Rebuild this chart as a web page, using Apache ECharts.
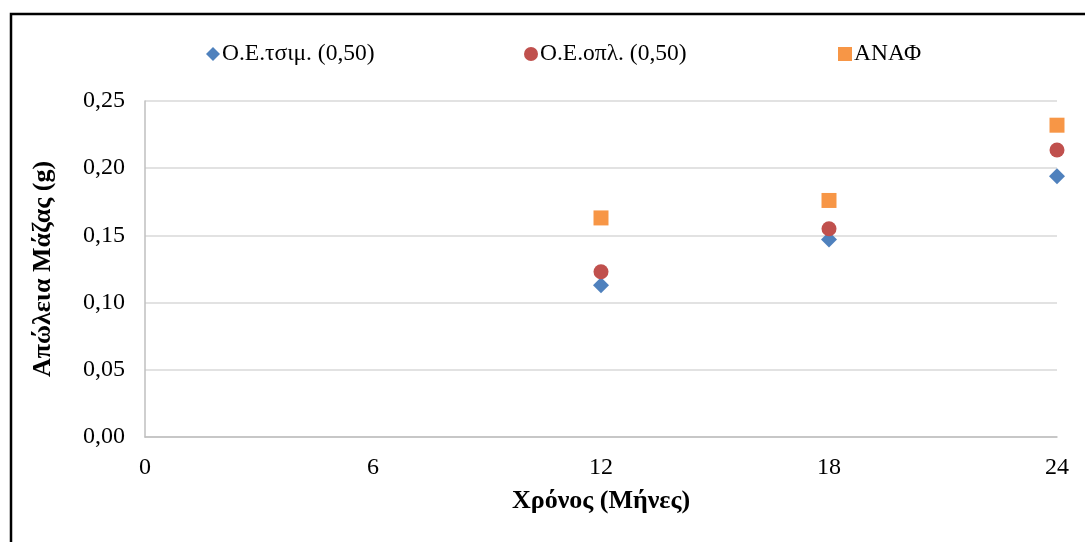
<!DOCTYPE html>
<html><head><meta charset="utf-8">
<script src="https://cdn.jsdelivr.net/npm/echarts@6/dist/echarts.min.js"></script>
<style>html,body{margin:0;padding:0;background:#fff}#c{width:1085px;height:542px}</style>
</head><body><div id="c"></div>
<script>
const months = [12, 18, 24];
const tsimValues = [0.113, 0.147, 0.194];
const oplValues = [0.123, 0.155, 0.2135];
const anafValues = [0.163, 0.176, 0.232];
const seriesNames = ['Ο.Ε.τσιμ. (0,50)', 'Ο.Ε.οπλ. (0,50)', 'ΑΝΑΦ'];
const xTitle = 'Χρόνος (Μήνες)';
const yTitle = 'Απώλεια Μάζας (g)';

const font = 'Liberation Serif';
const pair = (vals) => months.map((m, i) => [m, vals[i]]);
const chart = echarts.init(document.getElementById('c'), null, {renderer: 'canvas'});
const legendBase = {top: 37, itemWidth: 14, itemHeight: 14, itemGap: 0,
  textStyle: {fontFamily: font, fontSize: 23.5, color: '#000', padding: [0,0,0,-3]}};
chart.setOption({
  animation: false,
  graphic: [{type: 'polyline', shape: {points: [[11, 542], [11, 14], [1085, 14]]},
    style: {stroke: '#000', lineWidth: 2.5, fill: null}}],
  legend: [
    Object.assign({}, legendBase, {left: 201, data: [{name: seriesNames[0], icon: 'diamond'}]}),
    Object.assign({}, legendBase, {left: 519, data: [{name: seriesNames[1], icon: 'circle'}]}),
    Object.assign({}, legendBase, {left: 833, data: [{name: seriesNames[2], icon: 'rect'}]})
  ],
  grid: {left: 145, right: 28, top: 101, bottom: 105},
  xAxis: {type: 'value', min: 0, max: 24, interval: 6,
    axisLine: {lineStyle: {color: '#bfbfbf', width: 1.5}}, axisTick: {show: false},
    splitLine: {show: false},
    axisLabel: {fontFamily: font, fontSize: 24, color: '#000', margin: 19},
    name: xTitle, nameLocation: 'middle', nameGap: 51,
    nameTextStyle: {fontFamily: font, fontSize: 26, fontWeight: 'bold', color: '#000'}},
  yAxis: {type: 'value', min: 0, max: 0.25, interval: 0.05,
    axisLine: {show: true, lineStyle: {color: '#bfbfbf', width: 1.5}}, axisTick: {show: false},
    splitLine: {lineStyle: {color: '#d9d9d9', width: 1.5}},
    axisLabel: {fontFamily: font, fontSize: 24, color: '#000', margin: 20,
      formatter: v => v.toFixed(2).replace('.', ',')},
    name: yTitle, nameLocation: 'middle', nameGap: 89,
    nameTextStyle: {fontFamily: font, fontSize: 26, fontWeight: 'bold', color: '#000'}},
  series: [
    {name: seriesNames[0], type: 'scatter', symbol: 'diamond', symbolSize: 16,
      itemStyle: {color: '#4F81BD', opacity: 1}, data: pair(tsimValues), z: 3},
    {name: seriesNames[1], type: 'scatter', symbol: 'circle', symbolSize: 15,
      itemStyle: {color: '#C0504D', opacity: 1}, data: pair(oplValues), z: 4},
    {name: seriesNames[2], type: 'scatter', symbol: 'rect', symbolSize: 15,
      itemStyle: {color: '#F79646', opacity: 1}, data: pair(anafValues), z: 5}
  ]
});
</script></body></html>
